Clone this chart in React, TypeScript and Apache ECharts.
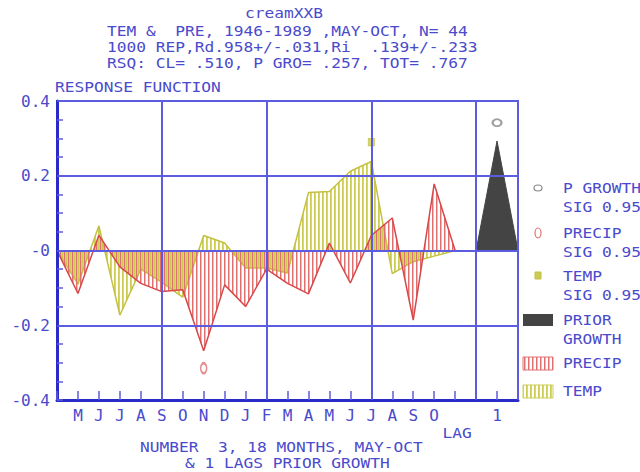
import React, { useEffect, useRef } from 'react';
import * as echarts from 'echarts';

// ---- data ----
const monthLabels = ['', 'M', 'J', 'J', 'A', 'S', 'O', 'N', 'D', 'J', 'F', 'M', 'A', 'M', 'J', 'J', 'A', 'S', 'O', '', '', '1', ''];
const lagIndex = [0, 1, 2, 3, 4, 5, 6, 7, 8, 9, 10, 11, 12, 13, 14, 15, 16, 17, 18, 19];
const precipValues = [0, -0.115, 0.041, -0.044, -0.088, -0.11, -0.105, -0.268, -0.092, -0.15, -0.05, -0.088, -0.116, 0.02, -0.087, 0.04, 0.087, -0.186, 0.178, 0];
const tempValues = [0, -0.09, 0.066, -0.173, -0.05, -0.085, -0.125, 0.04, 0.02, -0.047, -0.047, -0.06, 0.155, 0.158, 0.212, 0.238, -0.062, -0.03, -0.015, 0];
const growthLag = [20, 21, 22];
const growthValues = [0, 0.293, 0];
const precipSig = [[7, -0.315]];
const tempSig = [[15, 0.29]];
const growthSig = [[21, 0.342]];
const yLabelMap: Record<string, string> = { '40': '0.4', '20': '0.2', '0': '-0', '-20': '-0.2', '-40': '-0.4' };

const titleLines = [
  'TEM &  PRE, 1946-1989 ,MAY-OCT, N= 44',
  '1000 REP,Rd.958+/-.031,Ri  .139+/-.233',
  'RSQ: CL= .510, P GRO= .257, TOT= .767',
];

const BLUE_TEXT = '#4a4acc';
const GRID_BLUE = '#5c5ce0';
const AXIS_BLUE = '#2a2ac8';
const RED = '#e07070';
const RED_LINE = '#d84848';
const YEL = '#cccc55';
const YEL_LINE = '#c4c040';
const DARK = '#444444';
const FONT = '13.5px "DejaVu Sans Mono", monospace';

function makeHatch(color: string, x: number, w: number) {
  const c = document.createElement('canvas');
  c.width = 4;
  c.height = 4;
  const ctx = c.getContext('2d')!;
  ctx.fillStyle = color;
  ctx.fillRect(x, 0, w, 4);
  return { image: c, repeat: 'repeat', imageWidth: 4, imageHeight: 4 } as any;
}

function txt(text: string, x: number, y: number, align = 'left') {
  return {
    type: 'text',
    x,
    y,
    scaleX: 1.2,
    scaleY: 1.08,
    silent: true,
    style: {
      text,
      font: FONT,
      fill: BLUE_TEXT,
      align,
      verticalAlign: 'middle',
      textAlign: align,
      textVerticalAlign: 'middle',
    },
  };
}

export default function App() {
  const ref = useRef<HTMLDivElement>(null);
  useEffect(() => {
    if (!ref.current) return;
    const chart = echarts.init(ref.current, null, { renderer: 'svg' });
    const redHatch = makeHatch(RED, 0, 1.5);
    const yelHatch = makeHatch(YEL, 2, 1.8);

    const graphic: any[] = [
      txt('creamXXB', 245, 13),
      txt(titleLines[0], 107, 31),
      txt(titleLines[1], 107, 47),
      txt(titleLines[2], 107, 63),
      txt('RESPONSE FUNCTION', 55, 87),
      txt('LAG', 457, 433, 'center'),
      txt('NUMBER  3, 18 MONTHS, MAY-OCT', 140, 447),
      txt('& 1 LAGS PRIOR GROWTH', 185, 463),
      // legend
      { type: 'ellipse', shape: { cx: 538, cy: 188, rx: 4, ry: 3 }, style: { fill: 'none', stroke: '#888', lineWidth: 1.2 } },
      txt('P GROWTH', 563, 188),
      txt('SIG 0.95', 563, 207),
      { type: 'ellipse', shape: { cx: 538, cy: 233, rx: 3, ry: 5 }, style: { fill: 'none', stroke: RED, lineWidth: 1.2 } },
      txt('PRECIP', 563, 233),
      txt('SIG 0.95', 563, 252),
      { type: 'rect', shape: { x: 535, y: 272, width: 6, height: 7 }, style: { fill: YEL, stroke: YEL_LINE, lineWidth: 1 } },
      txt('TEMP', 563, 276),
      txt('SIG 0.95', 563, 295),
      { type: 'rect', shape: { x: 523, y: 314, width: 30, height: 12 }, style: { fill: DARK } },
      txt('PRIOR', 563, 320),
      txt('GROWTH', 563, 339),
      { type: 'rect', shape: { x: 523, y: 357, width: 30, height: 13 }, style: { fill: redHatch, stroke: RED, lineWidth: 1 } },
      txt('PRECIP', 563, 363),
      { type: 'rect', shape: { x: 523, y: 385, width: 30, height: 13 }, style: { fill: yelHatch, stroke: YEL, lineWidth: 1 } },
      txt('TEMP', 563, 391),
    ];

    const option: any = {
      animation: false,
      backgroundColor: '#ffffff',
      grid: {
        left: 57,
        top: 101,
        right: 122,
        bottom: 72,
        show: true,
        borderColor: GRID_BLUE,
        borderWidth: 2,
        backgroundColor: 'transparent',
      },
      graphic,
      xAxis: [
        {
          type: 'value',
          min: 0,
          max: 22,
          interval: 1,
          z: 5,
          axisLine: { show: true, onZero: false, lineStyle: { color: AXIS_BLUE, width: 3 } },
          axisTick: { show: true, inside: true, length: 9, lineStyle: { color: GRID_BLUE, width: 1.5 } },
          axisLabel: {
            show: true,
            margin: 7,
            color: BLUE_TEXT,
            fontFamily: '"DejaVu Sans Mono", monospace',
            fontSize: 16,
            formatter: (v: number) => monthLabels[Math.round(v)] ?? '',
          },
          splitLine: { show: false },
        },
        {
          type: 'value',
          min: 0,
          max: 22,
          interval: 5,
          position: 'bottom',
          z: 5,
          axisLine: { show: false },
          axisTick: { show: false },
          axisLabel: { show: false },
          splitLine: { show: true, lineStyle: { color: GRID_BLUE, width: 2 } },
        },
      ],
      yAxis: [
        {
          type: 'value',
          min: -0.4,
          max: 0.4,
          interval: 0.2,
          z: 5,
          axisLine: { show: true, onZero: false, lineStyle: { color: AXIS_BLUE, width: 3 } },
          axisTick: { show: true, inside: true, length: 6, lineStyle: { color: GRID_BLUE, width: 1.5 } },
          minorTick: { show: true, splitNumber: 4, length: 6, lineStyle: { color: GRID_BLUE, width: 1.5 } },
          axisLabel: {
            show: true,
            margin: 7,
            color: BLUE_TEXT,
            fontFamily: '"DejaVu Sans Mono", monospace',
            fontSize: 16,
            formatter: (v: number) => yLabelMap[String(Math.round(v * 100))] ?? '',
          },
          splitLine: { show: true, lineStyle: { color: GRID_BLUE, width: 2 } },
        },
      ],
      series: [
        {
          type: 'line',
          name: 'TEMP',
          xAxisIndex: 0,
          z: 1,
          symbol: 'none',
          data: lagIndex.map((x, i) => [x, tempValues[i]]),
          lineStyle: { color: YEL_LINE, width: 1.5 },
          areaStyle: { color: yelHatch, opacity: 1 },
        },
        {
          type: 'line',
          name: 'PRECIP',
          xAxisIndex: 0,
          z: 2,
          symbol: 'none',
          data: lagIndex.map((x, i) => [x, precipValues[i]]),
          lineStyle: { color: RED_LINE, width: 1.5 },
          areaStyle: { color: redHatch, opacity: 1 },
        },
        {
          type: 'line',
          name: 'PRIOR GROWTH',
          xAxisIndex: 0,
          z: 2,
          symbol: 'none',
          data: growthLag.map((x, i) => [x, growthValues[i]]),
          lineStyle: { color: DARK, width: 1 },
          areaStyle: { color: DARK, opacity: 1 },
        },
        {
          type: 'scatter',
          name: 'PRECIP SIG',
          z: 3,
          symbol: 'emptyCircle',
          symbolSize: [6, 10],
          itemStyle: { color: RED, borderColor: RED, borderWidth: 1 },
          data: precipSig,
        },
        {
          type: 'scatter',
          name: 'TEMP SIG',
          z: 3,
          symbol: 'rect',
          symbolSize: [6, 7],
          itemStyle: { color: YEL, borderColor: YEL_LINE, borderWidth: 1 },
          data: tempSig,
        },
        {
          type: 'scatter',
          name: 'GROWTH SIG',
          z: 3,
          symbol: 'emptyCircle',
          symbolSize: [9, 7],
          itemStyle: { color: '#888', borderColor: '#888', borderWidth: 1 },
          data: growthSig,
        },
      ],
    };
    chart.setOption(option);
    return () => chart.dispose();
  }, []);
  return (
    <div
      ref={ref}
      style={{ position: 'fixed', left: 0, top: 0, width: 640, height: 472, background: '#fff' }}
    />
  );
}
